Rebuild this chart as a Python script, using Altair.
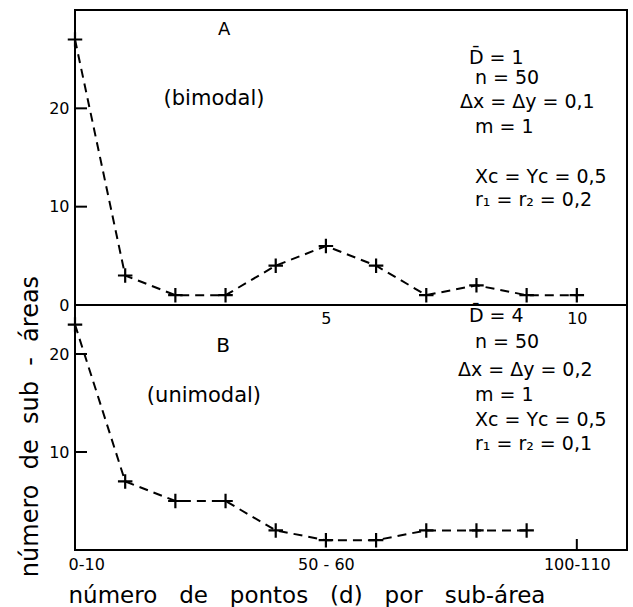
import altair as alt
import pandas as pd

# ---- data ----
x_idx_a = [0, 1, 2, 3, 4, 5, 6, 7, 8, 9, 10]
counts_a = [27, 3, 1, 1, 4, 6, 4, 1, 2, 1, 1]
x_idx_b = [0, 1, 2, 3, 4, 5, 6, 7, 8, 9]
counts_b = [23, 7, 5, 5, 2, 1, 1, 2, 2, 2]

a_xtick_values = [5, 10]
b_xtick_values = [0, 5, 10]
b_xtick_labels = ["0-10", "50 - 60", "100-110"]
a_ytick_values = [0, 10, 20]
b_ytick_values = [10, 20]

params_a = ["D\u0304 = 1", "n = 50", "\u0394x = \u0394y = 0,1", "m = 1",
            "Xc = Yc = 0,5", "r\u2081 = r\u2082 = 0,2"]
params_b = ["D\u0304 = 4", "n = 50", "\u0394x = \u0394y = 0,2", "m = 1",
            "Xc = Yc = 0,5", "r\u2081 = r\u2082 = 0,1"]

NB = "\u00a0"
Y_TITLE = f"número{NB*2}de{NB*2}sub{NB*2}-{NB*2}áreas"
X_TITLE = (f"número{NB*3}de{NB*3}pontos{NB*3}(d){NB*3}por{NB*3}sub-área")

FONT = "DejaVu Sans"
W = 552
H_A = 295
H_B = 245
X_DOMAIN = [0, 11]
PLUS = "M-1,0L1,0M0,-1L0,1"


def build_panel(xs, ys, ymax, height, yticks, xaxis, yaxis, inner_xticks,
                title_pos, params, params_x, params_y):
    df = pd.DataFrame({"x": xs, "y": ys})
    xs_ = alt.Scale(domain=X_DOMAIN, nice=False, zero=False)
    ys_ = alt.Scale(domain=[0, ymax], nice=False)
    base = alt.Chart(df)
    line = base.mark_line(color="black", strokeWidth=2, strokeDash=[9, 6]).encode(
        x=alt.X("x:Q", scale=xs_, axis=xaxis),
        y=alt.Y("y:Q", scale=ys_, axis=yaxis),
    )
    pts = base.mark_point(shape=PLUS, size=210, filled=False, color="black",
                          strokeWidth=2.2, opacity=1).encode(
        x=alt.X("x:Q", scale=xs_), y=alt.Y("y:Q", scale=ys_))
    ytk = alt.Chart(pd.DataFrame({"v": yticks})).mark_rule(
        color="black", strokeWidth=2).encode(
        y=alt.Y("v:Q", scale=ys_), x=alt.value(0), x2=alt.value(12))
    layers = [line, pts, ytk]
    if inner_xticks:
        xtk = alt.Chart(pd.DataFrame({"v": inner_xticks})).mark_rule(
            color="black", strokeWidth=2).encode(
            x=alt.X("v:Q", scale=xs_), y=alt.value(height), y2=alt.value(height - 11))
        layers.append(xtk)
    tdf = pd.DataFrame(title_pos)
    ttl = alt.Chart(tdf).mark_text(font=FONT, color="black", align="center",
                                   baseline="middle").encode(
        x=alt.X("x:Q", scale=xs_), y=alt.Y("y:Q", scale=ys_),
        text="t:N", size=alt.Size("s:Q", scale=None, legend=None))
    pdf = pd.DataFrame({"t": params, "x": params_x, "y": params_y})
    prm = alt.Chart(pdf).mark_text(font=FONT, fontSize=19, color="black",
                                   align="left", baseline="middle").encode(
        x=alt.X("x:Q", scale=xs_), y=alt.Y("y:Q", scale=ys_), text="t:N")
    layers += [ttl, prm]
    return alt.layer(*layers).properties(width=W, height=height)


label_style = dict(labelFont=FONT, labelFontSize=16, labelColor="black",
                   ticks=False, domain=False, grid=False)

xaxis_a = alt.Axis(values=a_xtick_values, title=None, labelPadding=5, **label_style)
yaxis_a = alt.Axis(values=a_ytick_values, labelPadding=6,
                   title=Y_TITLE, titleFont=FONT,
                   titleFontSize=24, titleFontWeight="normal", titleColor="black",
                   titleAngle=-90, titleAlign="center", titleBaseline="alphabetic",
                   titleX=-38, titleY=416, **label_style)

label_expr = " : ".join(
    f"datum.value == {v} ? '{l}'" for v, l in zip(b_xtick_values[:-1], b_xtick_labels[:-1])
) + f" : '{b_xtick_labels[-1]}'"
xaxis_b = alt.Axis(values=b_xtick_values, labelExpr=label_expr, labelFlush=True,
                   labelFlushOffset=7, labelPadding=6, title=X_TITLE,
                   titleFont=FONT, titleFontSize=23, titleFontWeight="normal",
                   titleColor="black", titleAnchor="start", titleAlign="left",
                   titleBaseline="alphabetic", titleX=-7, titleY=52, **label_style)
yaxis_b = alt.Axis(values=b_ytick_values, title=None, labelPadding=6, **label_style)

panel_a = build_panel(
    x_idx_a, counts_a, 30, H_A, a_ytick_values[1:], xaxis_a, yaxis_a, [],
    {"t": ["A", "(bimodal)"], "x": [2.97, 2.77], "y": [28.0, 20.9], "s": [18, 21]},
    params_a, [7.85, 7.97, 7.67, 7.97, 7.97, 7.97],
    [25.1, 23.1, 20.6, 18.1, 13.0, 10.7])

panel_b = build_panel(
    x_idx_b, counts_b, 25, H_B, b_ytick_values, xaxis_b, yaxis_b, [10],
    {"t": ["B", "(unimodal)"], "x": [2.95, 2.57], "y": [20.8, 15.7], "s": [20, 21]},
    params_b, [7.85, 7.97, 7.63, 7.97, 7.97, 7.97],
    [23.9, 21.2, 18.4, 15.8, 13.3, 10.8])

chart = alt.vconcat(panel_a, panel_b, spacing=0, bounds="flush").configure(
    font=FONT, padding={"left": 17, "top": 9, "right": 5, "bottom": 3},
    background="white",
    view=alt.ViewConfig(stroke="black", strokeWidth=2))

chart.save("out.html", embed_options={"renderer": "svg", "actions": False})
